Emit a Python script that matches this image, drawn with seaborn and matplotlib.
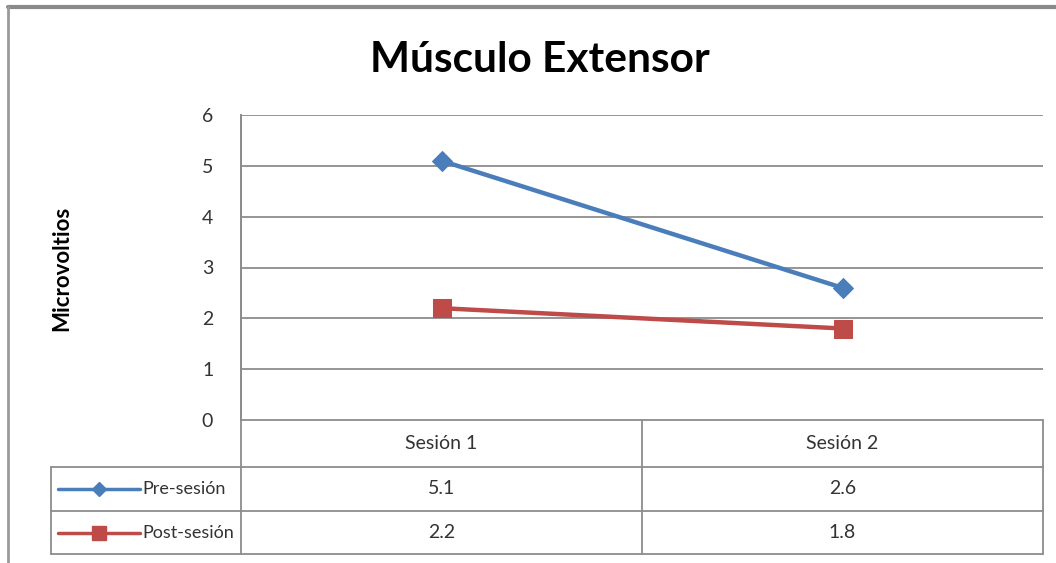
import matplotlib
matplotlib.use("Agg")
import matplotlib.pyplot as plt
import matplotlib.transforms as mtransforms
from matplotlib.lines import Line2D
import seaborn as sns
import pandas as pd

# --- data ---
sesiones = ["Sesión 1", "Sesión 2"]
pre_sesion = [5.1, 2.6]
post_sesion = [2.2, 1.8]
series_names = ["Pre-sesión", "Post-sesión"]
y_ticks = [0, 1, 2, 3, 4, 5, 6]

title = "Músculo Extensor"
y_label = "Microvoltios"

blue = "#4A7EBB"
red = "#BE4B48"
grid_gray = "#8C8C8C"
text_gray = "#333333"

sns.set_theme(style="white")
plt.rcParams["font.family"] = ["Lato", "DejaVu Sans"]

W, H = 1056, 563
fig = plt.figure(figsize=(W / 100, H / 100), dpi=100)
fig.patch.set_facecolor("white")

# overlay in pixel units for frame and table
ov = fig.add_axes([0, 0, 1, 1], zorder=0)
ov.set_xlim(0, W)
ov.set_ylim(H, 0)
ov.axis("off")

# plot area
left, right, top, bottom = 241, 1043, 115, 420
ax = fig.add_axes([left / W, 1 - bottom / H, (right - left) / W, (bottom - top) / H], zorder=2)
ax.patch.set_alpha(0)

df = pd.DataFrame({
    "sesion": sesiones * 2,
    "valor": pre_sesion + post_sesion,
    "serie": [series_names[0]] * 2 + [series_names[1]] * 2,
})
df["pos"] = [sesiones.index(s) for s in df["sesion"]]

sns.lineplot(data=df[df.serie == series_names[0]], x="pos", y="valor", ax=ax,
             color=blue, linewidth=3.2, marker="D", markersize=10,
             markeredgecolor=blue, legend=False)
sns.lineplot(data=df[df.serie == series_names[1]], x="pos", y="valor", ax=ax,
             color=red, linewidth=3.2, marker="s", markersize=13,
             markeredgecolor=red, legend=False)

ax.set_xlim(-0.5, len(sesiones) - 0.5)
ax.set_ylim(min(y_ticks), max(y_ticks))
ax.set_yticks(y_ticks)
ax.set_yticklabels([str(t) for t in y_ticks], fontsize=14, color=text_gray)
ax.tick_params(axis="y", length=0, pad=20)
ax.set_xticks([])
ax.set_xlabel("")
ax.set_ylabel("")
for t in y_ticks[1:]:
    ax.axhline(t, color=grid_gray, linewidth=1.3, zorder=0)
for s in ["top", "right", "bottom"]:
    ax.spines[s].set_visible(False)
ax.spines["left"].set_color(grid_gray)
ax.spines["left"].set_linewidth(1.3)

# outer chart frame
ov.plot([8, W + 5], [7, 7], color="#8A8A8A", linewidth=3)
ov.plot([8, 8], [7, H + 5], color="#9A9A9A", linewidth=2)

# title and axis label
ov.text(540, 60, title, ha="center", va="center", fontsize=30.5, fontweight="bold", color="black")
ov.text(62, 268, y_label, ha="center", va="center", rotation=90, fontsize=16,
        fontweight="bold", color="black")

# data table below the plot
tr = mtransforms.blended_transform_factory(ax.transData, ov.transData)
row_y = [420, 467, 511, 554]
tab_left = 51
lc = grid_gray
lw = 1.3
ov.plot([left, right], [row_y[0], row_y[0]], color=lc, lw=lw)
for yy in row_y[1:]:
    ov.plot([tab_left, right], [yy, yy], color=lc, lw=lw)
ov.plot([left, left], [top, row_y[-1]], color=lc, lw=lw)
ov.plot([tab_left, tab_left], [row_y[1], row_y[-1]], color=lc, lw=lw)
ov.plot([right, right], [row_y[0], row_y[-1]], color=lc, lw=lw)
ov.plot([642, 642], [row_y[0], row_y[-1]], color=lc, lw=lw)

for i, s in enumerate(sesiones):
    ov.text(i, (row_y[0] + row_y[1]) / 2, s, transform=tr, ha="center", va="center",
            fontsize=14, color=text_gray)

rows = [(series_names[0], pre_sesion, blue, "D", 7),
        (series_names[1], post_sesion, red, "s", 10)]
for r, (name, vals, col, mk, ms) in enumerate(rows):
    yc = (row_y[r + 1] + row_y[r + 2]) / 2
    ov.add_line(Line2D([58, 140], [yc, yc], color=col, lw=2.5))
    ov.add_line(Line2D([99], [yc], color=col, marker=mk, markersize=ms, markeredgecolor=col))
    ov.text(142, yc, name, ha="left", va="center", fontsize=13, color=text_gray)
    for i, v in enumerate(vals):
        ov.text(i, yc, f"{v:.1f}", transform=tr, ha="center", va="center",
                fontsize=14, color=text_gray)

fig.savefig("out.png", dpi=100)
